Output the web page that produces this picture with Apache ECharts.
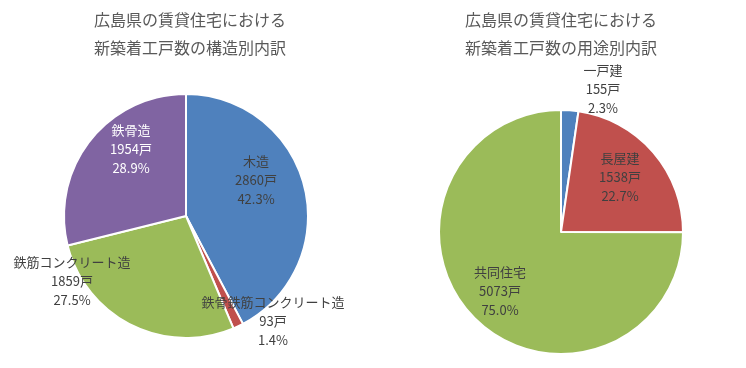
<!DOCTYPE html>
<html><head><meta charset="utf-8">
<script src="https://cdn.jsdelivr.net/npm/echarts@6/dist/echarts.min.js"></script>
<style>html,body{margin:0;padding:0;background:#fff}#c{width:746px;height:368px}</style>
</head><body><div id="c"></div>
<script>
const structCats = ['木造','鉄骨鉄筋コンクリート造','鉄筋コンクリート造','鉄骨造'];
const structVals = [2860, 93, 1859, 1954];
const useCats = ['一戸建','長屋建','共同住宅'];
const useVals = [155, 1538, 5073];
const titleLeft = '広島県の賃貸住宅における\n新築着工戸数の構造別内訳';
const titleRight = '広島県の賃貸住宅における\n新築着工戸数の用途別内訳';

const colors4 = ['#4F81BD','#C0504D','#9BBB59','#8064A2'];
const colors3 = ['#4F81BD','#C0504D','#9BBB59'];
const structOffsets = [[70,-36],[87,105],[-114,65],[-55,-67]];
const useOffsets = [[42,-143],[59,-55],[-61,59]];
const structLabelColors = ['#404040','#404040','#404040','#ffffff'];

function fmt(vals){
  const total = vals.reduce((a,b)=>a+b,0);
  return p => p.name + '\n' + p.value + '戸\n' + (p.value/total*100).toFixed(1) + '%';
}
function mk(cats, vals, cols, offs, lcols){
  return cats.map((n,i)=>({name:n, value:vals[i], itemStyle:{color:cols[i]},
    label:{offset:offs[i], color:lcols?lcols[i]:'#404040'}}));
}
const font = '"Noto Sans CJK JP", sans-serif';
const chart = echarts.init(document.getElementById('c'));
chart.setOption({
  animation:false,
  title:[
    {text:titleLeft, left:185, top:1, textAlign:'center', textStyle:{fontSize:16, fontWeight:'normal', color:'#595959', lineHeight:28, fontFamily:font}},
    {text:titleRight, left:556, top:1, textAlign:'center', textStyle:{fontSize:16, fontWeight:'normal', color:'#595959', lineHeight:28, fontFamily:font}}
  ],
  series:[
    {type:'pie', center:[186,216], radius:122, startAngle:90, clockwise:true,
     itemStyle:{borderColor:'#fff', borderWidth:2},
     label:{position:'center', formatter:fmt(structVals), fontSize:13, lineHeight:19, fontFamily:font},
     labelLine:{show:false}, emphasis:{disabled:true},
     data:mk(structCats, structVals, colors4, structOffsets, structLabelColors)},
    {type:'pie', center:[561,232], radius:122, startAngle:90, clockwise:true,
     itemStyle:{borderColor:'#fff', borderWidth:2},
     label:{position:'center', formatter:fmt(useVals), fontSize:13, lineHeight:19, fontFamily:font},
     labelLine:{show:false}, emphasis:{disabled:true},
     data:mk(useCats, useVals, colors3, useOffsets)}
  ]
});
</script></body></html>
